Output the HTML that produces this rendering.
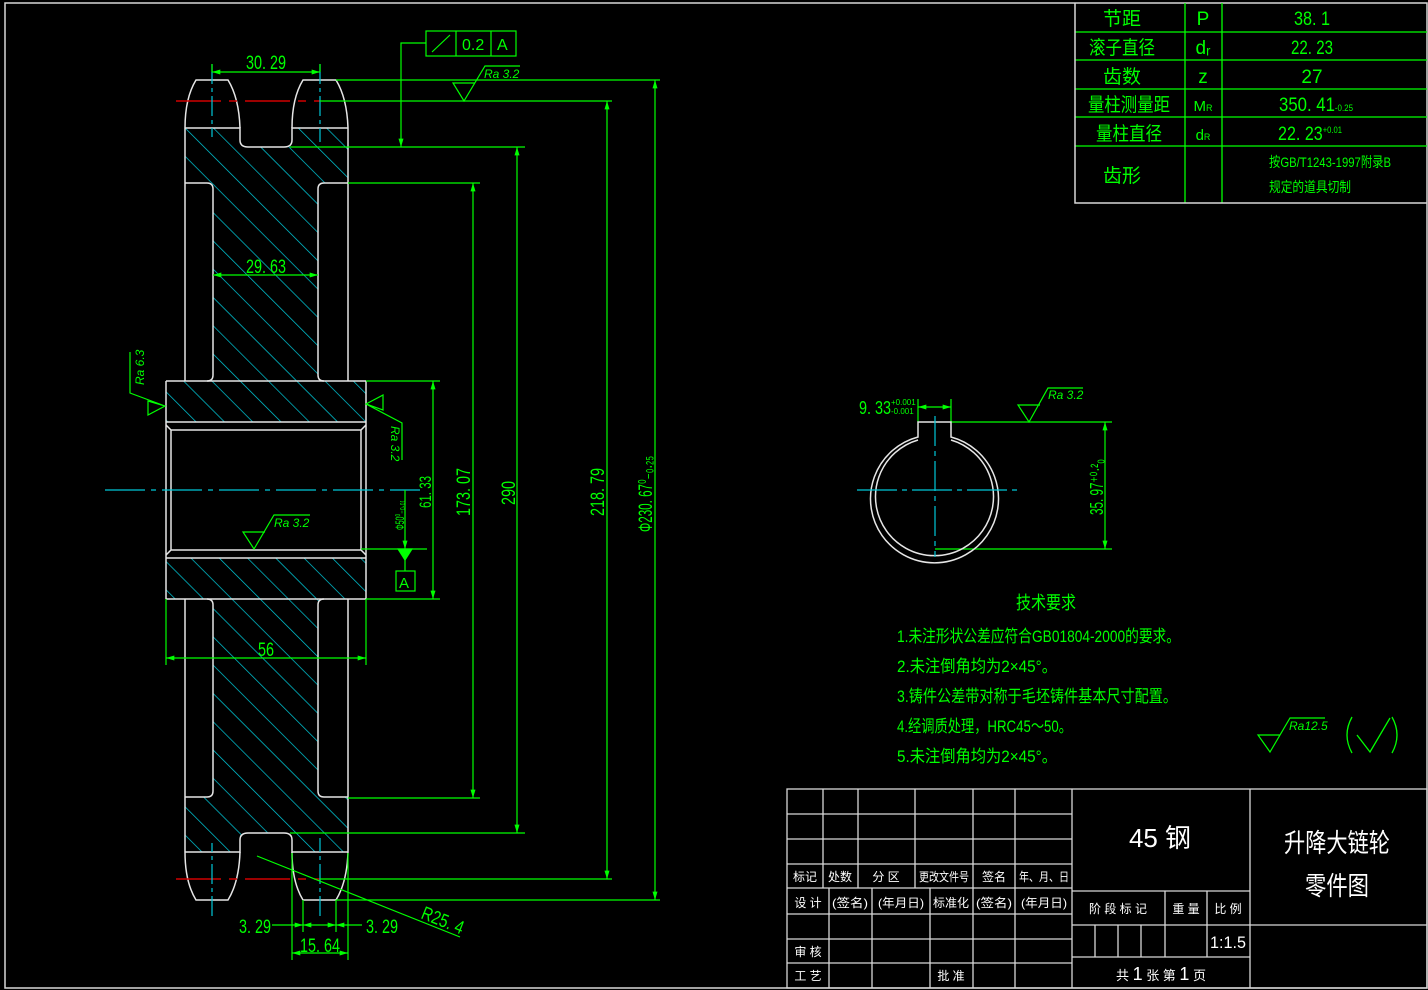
<!DOCTYPE html>
<html><head><meta charset="utf-8"><style>
html,body{margin:0;padding:0;background:#000;}
svg{display:block;}
text{font-family:"Liberation Sans Narrow","Liberation Sans","Noto Sans CJK SC",sans-serif;}
.g{fill:#00ff00;}
.w{fill:#fff;}
</style></head><body>
<svg width="1428" height="990" viewBox="0 0 1428 990" xmlns="http://www.w3.org/2000/svg">
<defs>
<pattern id="h" patternUnits="userSpaceOnUse" width="20" height="20" patternTransform="rotate(-45)">
<line x1="0" y1="0" x2="0" y2="20" stroke="#00d0e0" stroke-width="1.4"/>
</pattern>
<marker id="a" viewBox="0 0 10 6" refX="10" refY="3" markerWidth="14" markerHeight="5" orient="auto-start-reverse" markerUnits="userSpaceOnUse"><path d="M0,0 L10,3 L0,6z" fill="#00ff00"/></marker>
<g id="half">
<g fill="none" stroke="#e6e6e6" stroke-width="1.5">
<path d="M185,128 Q185,98 196,80 L228,80 Q239,98 240,128"/>
<path d="M292,128 Q292,98 303,80 L336,80 Q347,98 348,128"/>
<path d="M185,128 L240,128 L240,140 Q240,147 248,147 L284,147 Q292,147 292,140 L292,128 L348,128"/>
<path d="M185,128 L185,381 M348,128 L348,381"/>
<path d="M185,183 L207,183 Q213,183 213,189 L213,375 Q213,381 207,381"/>
<path d="M348,183 L324,183 Q318,183 318,189 L318,375 Q318,381 324,381"/>
<path d="M166,381 L366,381 M166,381 L166,490 M366,381 L366,490 M166,422 L366,422"/>
<path d="M166,425 L171,430 L361,430 L366,425 M171,430 L171,490 M361,430 L361,490"/>
</g>
<path d="M176,101 L320,101" stroke="#d00000" stroke-width="1.5" stroke-dasharray="45 8 8 8"/>
<path d="M212,64 L212,137 M320,64 L320,142" stroke="#00c8d8" stroke-width="1.2" stroke-dasharray="20 4 4 4"/>
</g>
</defs>

<rect x="5" y="3" width="1422" height="985" fill="none" stroke="#d8d8d8" stroke-width="1.5"/>

<!-- hatch (same direction top and bottom) -->
<path d="M185,128 L240,128 L240,140 Q240,147 248,147 L284,147 Q292,147 292,140 L292,128 L348,128 L348,183 L324,183 Q318,183 318,189 L318,375 Q318,381 324,381 L366,381 L366,422 L166,422 L166,381 L207,381 Q213,381 213,375 L213,189 Q213,183 207,183 L185,183Z" fill="url(#h)"/>
<path d="M185,852 L240,852 L240,840 Q240,833 248,833 L284,833 Q292,833 292,840 L292,852 L348,852 L348,797 L324,797 Q318,797 318,791 L318,605 Q318,599 324,599 L366,599 L366,558 L166,558 L166,599 L207,599 Q213,599 213,605 L213,791 Q213,797 207,797 L185,797Z" fill="url(#h)"/>
<use href="#half"/>
<use href="#half" transform="matrix(1,0,0,-1,0,980)"/>
<path d="M105,490 L420,490" stroke="#00c8d8" stroke-width="1.2" stroke-dasharray="40 6 5 6"/>

<g stroke="#00ff00" stroke-width="1.2" fill="none">
<line x1="212" y1="64" x2="212" y2="72"/><line x1="320" y1="64" x2="320" y2="72"/>
<line x1="212" y1="72" x2="320" y2="72" marker-start="url(#a)" marker-end="url(#a)"/>
<line x1="213" y1="275" x2="318" y2="275" marker-start="url(#a)" marker-end="url(#a)"/>
<line x1="166" y1="599" x2="166" y2="665"/><line x1="366" y1="599" x2="366" y2="665"/>
<line x1="166" y1="658" x2="366" y2="658" marker-start="url(#a)" marker-end="url(#a)"/>
<line x1="336" y1="80" x2="660" y2="80"/>
<line x1="320" y1="101" x2="612" y2="101"/>
<line x1="290" y1="147" x2="525" y2="147"/>
<line x1="348" y1="183" x2="480" y2="183"/>
<line x1="366" y1="381" x2="440" y2="381"/>
<line x1="361" y1="549" x2="427" y2="549"/>
<line x1="366" y1="599" x2="440" y2="599"/>
<line x1="348" y1="798" x2="480" y2="798"/>
<line x1="290" y1="833" x2="525" y2="833"/>
<line x1="320" y1="879" x2="612" y2="879"/>
<line x1="336" y1="900" x2="660" y2="900"/>
<line x1="655" y1="80" x2="655" y2="900" marker-start="url(#a)" marker-end="url(#a)"/>
<line x1="607" y1="101" x2="607" y2="879" marker-start="url(#a)" marker-end="url(#a)"/>
<line x1="517" y1="147" x2="517" y2="833" marker-start="url(#a)" marker-end="url(#a)"/>
<line x1="473" y1="183" x2="473" y2="798" marker-start="url(#a)" marker-end="url(#a)"/>
<line x1="433" y1="381" x2="433" y2="599" marker-start="url(#a)" marker-end="url(#a)"/>
<line x1="405" y1="490" x2="405" y2="549" marker-end="url(#a)"/>
<line x1="405" y1="549" x2="405" y2="571"/>
<path d="M398,549 L412,549 L405,560z" fill="#00ff00"/>
<rect x="396" y="571" width="19" height="20"/>
<rect x="426" y="31" width="90" height="25"/>
<line x1="456" y1="31" x2="456" y2="56"/><line x1="491" y1="31" x2="491" y2="56"/>
<line x1="432" y1="52" x2="450" y2="35"/>
<path d="M426,43 L401,43 L401,147" marker-end="url(#a)"/>
<path d="M520,66 L485,66 L464,101 L453,83 L475,83"/>
<path d="M310,515 L274,515 L254,549 L243,532 L265,532"/>
<path d="M1083,388 L1048,388 L1029,422 L1018,405 L1040,405"/>
<path d="M1325,718 L1290,718 L1270,752 L1258,735 L1280,735"/>
<path d="M148,401 L148,415 L165,406 Z M165,406 L130,393 L130,352"/>
<path d="M383,395 L383,410 L366,404 Z M366,404 L402,423 L402,460"/>
<line x1="292" y1="853" x2="292" y2="960"/><line x1="348" y1="853" x2="348" y2="960"/>
<line x1="303" y1="900" x2="303" y2="932"/><line x1="336" y1="900" x2="336" y2="932"/>
<line x1="272" y1="925" x2="303" y2="925" marker-end="url(#a)"/>
<line x1="303" y1="925" x2="320" y2="925" marker-start="url(#a)"/>
<line x1="320" y1="925" x2="336" y2="925" marker-end="url(#a)"/>
<line x1="336" y1="925" x2="362" y2="925" marker-start="url(#a)"/>
<line x1="292" y1="953" x2="348" y2="953" marker-start="url(#a)" marker-end="url(#a)"/>
<line x1="257" y1="856" x2="460" y2="937"/>
<line x1="918" y1="399" x2="918" y2="422"/><line x1="951" y1="399" x2="951" y2="422"/>
<line x1="918" y1="407" x2="951" y2="407" marker-start="url(#a)" marker-end="url(#a)"/>
<line x1="951" y1="422" x2="1112" y2="422"/>
<line x1="935" y1="549" x2="1112" y2="549"/>
<line x1="1105" y1="422" x2="1105" y2="549" marker-start="url(#a)" marker-end="url(#a)"/>
</g>

<g fill="none" stroke="#e6e6e6" stroke-width="1.5">
<path d="M918,422 L951,422 L951,437 A64,64 0 1 1 918,437 Z"/>
<path d="M918,440 A59,59 0 1 0 951,440"/>
</g>
<path d="M857,490 L1022,490" stroke="#00c8d8" stroke-width="1.2" stroke-dasharray="40 5 5 5"/>
<path d="M935,416 L935,557" stroke="#00c8d8" stroke-width="1.2" stroke-dasharray="30 5 5 5"/>

<g class="g" font-size="19">
<text x="246" y="69" textLength="40" lengthAdjust="spacingAndGlyphs">30. 29</text>
<text x="246" y="273" textLength="40" lengthAdjust="spacingAndGlyphs">29. 63</text>
<text x="258" y="656" textLength="16" lengthAdjust="spacingAndGlyphs">56</text>
<text x="239" y="933" textLength="32" lengthAdjust="spacingAndGlyphs">3. 29</text>
<text x="366" y="933" textLength="32" lengthAdjust="spacingAndGlyphs">3. 29</text>
<text x="300" y="952" textLength="40" lengthAdjust="spacingAndGlyphs">15. 64</text>
<text x="420" y="918" transform="rotate(22 420 918)" textLength="44" lengthAdjust="spacingAndGlyphs">R25. 4</text>
<text x="462" y="50" font-size="16" font-family="Liberation Sans">0.2</text>
<text x="497" y="50" font-size="16" font-family="Liberation Sans">A</text>
<text x="399" y="588" font-size="15" font-family="Liberation Sans">A</text>
<g font-style="italic" font-size="12" font-family="Liberation Sans">
<text x="484" y="78">Ra 3.2</text>
<text x="274" y="527">Ra 3.2</text>
<text x="1048" y="399">Ra 3.2</text>
<text x="1289" y="730">Ra12.5</text>
<text x="144" y="385" transform="rotate(-90 144 385)">Ra 6.3</text>
<text x="391" y="426" transform="rotate(90 391 426)">Ra 3.2</text>
</g>
<text transform="translate(515,505) rotate(-90)" textLength="24" lengthAdjust="spacingAndGlyphs">290</text>
<text transform="translate(470,516) rotate(-90)" textLength="48" lengthAdjust="spacingAndGlyphs">173. 07</text>
<text transform="translate(431,508) rotate(-90)" font-size="17" textLength="32" lengthAdjust="spacingAndGlyphs">61. 33</text>
<text transform="translate(404,530) rotate(-90)" font-size="12" textLength="30" lengthAdjust="spacingAndGlyphs">Φ50⁰₋₀.₀₁</text>
<text transform="translate(604,516) rotate(-90)" textLength="48" lengthAdjust="spacingAndGlyphs">218. 79</text>
<text transform="translate(652,532) rotate(-90)" textLength="76" lengthAdjust="spacingAndGlyphs">Φ230. 67⁰₋₀.₂₅</text>
<text transform="translate(1103,515) rotate(-90)" font-size="18" textLength="56" lengthAdjust="spacingAndGlyphs">35. 97⁺⁰·²₀</text>
<text x="859" y="414" font-size="18" textLength="32" lengthAdjust="spacingAndGlyphs">9. 33</text>
<text x="891" y="405" font-size="8">+0.001</text>
<text x="891" y="414" font-size="8">-0.001</text>
<text x="1016" y="609" font-size="18" textLength="60" lengthAdjust="spacingAndGlyphs">技术要求</text>
<text x="897" y="642" font-size="17" textLength="283" lengthAdjust="spacingAndGlyphs">1.未注形状公差应符合GB01804-2000的要求。</text>
<text x="897" y="672" font-size="17" textLength="160" lengthAdjust="spacingAndGlyphs">2.未注倒角均为2×45°。</text>
<text x="897" y="702" font-size="17" textLength="280" lengthAdjust="spacingAndGlyphs">3.铸件公差带对称于毛坯铸件基本尺寸配置。</text>
<text x="897" y="732" font-size="17" textLength="175" lengthAdjust="spacingAndGlyphs">4.经调质处理，HRC45～50。</text>
<text x="897" y="762" font-size="17" textLength="160" lengthAdjust="spacingAndGlyphs">5.未注倒角均为2×45°。</text>
</g>
<g stroke="#00ff00" stroke-width="1.3" fill="none">
<path d="M1352,717 Q1342,735 1352,753"/>
<path d="M1392,717 Q1402,735 1392,753"/>
<path d="M1357,735 L1370,752 L1390,718"/>
</g>

<g stroke="#00ff00" stroke-width="1.3">
<line x1="1075" y1="32" x2="1427" y2="32"/><line x1="1075" y1="60" x2="1427" y2="60"/>
<line x1="1075" y1="89" x2="1427" y2="89"/><line x1="1075" y1="117" x2="1427" y2="117"/>
<line x1="1075" y1="146" x2="1427" y2="146"/>
<line x1="1185" y1="3" x2="1185" y2="203"/><line x1="1222" y1="3" x2="1222" y2="203"/>
</g>
<path d="M1075,3 L1075,203 L1427,203" fill="none" stroke="#d8d8d8" stroke-width="1.5"/>
<g class="g" font-size="19" text-anchor="middle">
<text x="1122" y="25">节距</text><text x="1203" y="25">P</text><text x="1312" y="25" textLength="36" lengthAdjust="spacingAndGlyphs">38. 1</text>
<text x="1122" y="54" textLength="66" lengthAdjust="spacingAndGlyphs">滚子直径</text><text x="1203" y="54">dᵣ</text><text x="1312" y="54" textLength="42" lengthAdjust="spacingAndGlyphs">22. 23</text>
<text x="1122" y="83">齿数</text><text x="1203" y="83">z</text><text x="1312" y="83">27</text>
<text x="1129" y="111" textLength="82" lengthAdjust="spacingAndGlyphs">量柱测量距</text><text x="1203" y="111" font-size="15">M<tspan font-size="9">R</tspan></text><text x="1316" y="111" textLength="74" lengthAdjust="spacingAndGlyphs">350. 41<tspan font-size="9">-0.25</tspan></text>
<text x="1129" y="140" textLength="66" lengthAdjust="spacingAndGlyphs">量柱直径</text><text x="1203" y="140" font-size="15">d<tspan font-size="9">R</tspan></text><text x="1310" y="140" textLength="64" lengthAdjust="spacingAndGlyphs">22. 23<tspan font-size="9" dy="-7">+0.01</tspan></text>
<text x="1122" y="182">齿形</text>
<text x="1330" y="167" font-size="14" textLength="122" lengthAdjust="spacingAndGlyphs">按GB/T1243-1997附录B</text>
<text x="1310" y="192" font-size="14" textLength="82" lengthAdjust="spacingAndGlyphs">规定的道具切制</text>
</g>

<g stroke="#d8d8d8" stroke-width="1.3" fill="none">
<rect x="787" y="789" width="640" height="199"/>
<line x1="1072" y1="789" x2="1072" y2="988"/><line x1="1250" y1="789" x2="1250" y2="988"/>
<line x1="787" y1="814" x2="1072" y2="814"/><line x1="787" y1="839" x2="1072" y2="839"/>
<line x1="787" y1="864" x2="1072" y2="864"/><line x1="787" y1="888" x2="1072" y2="888"/>
<line x1="787" y1="914" x2="1072" y2="914"/><line x1="787" y1="939" x2="1072" y2="939"/>
<line x1="787" y1="963" x2="1072" y2="963"/>
<line x1="823" y1="789" x2="823" y2="888"/><line x1="858" y1="789" x2="858" y2="888"/>
<line x1="915" y1="789" x2="915" y2="888"/><line x1="973" y1="789" x2="973" y2="888"/>
<line x1="1015" y1="789" x2="1015" y2="888"/>
<line x1="829" y1="888" x2="829" y2="988"/><line x1="872" y1="888" x2="872" y2="988"/>
<line x1="930" y1="888" x2="930" y2="988"/><line x1="973" y1="888" x2="973" y2="988"/>
<line x1="1015" y1="888" x2="1015" y2="988"/>
<line x1="1072" y1="891" x2="1250" y2="891"/><line x1="1072" y1="925" x2="1427" y2="925"/>
<line x1="1072" y1="957" x2="1250" y2="957"/>
<line x1="1165" y1="891" x2="1165" y2="957"/><line x1="1207" y1="891" x2="1207" y2="957"/>
<line x1="1095" y1="925" x2="1095" y2="957"/><line x1="1118" y1="925" x2="1118" y2="957"/>
<line x1="1141" y1="925" x2="1141" y2="957"/>
</g>
<g class="w" font-size="12" text-anchor="middle">
<text x="805" y="881">标记</text><text x="840" y="881">处数</text><text x="886" y="881">分 区</text>
<text x="944" y="881" textLength="50" lengthAdjust="spacingAndGlyphs">更改文件号</text><text x="994" y="881">签名</text><text x="1044" y="881" textLength="50" lengthAdjust="spacingAndGlyphs">年、月、日</text>
<text x="808" y="907">设 计</text><text x="850" y="907" textLength="36" lengthAdjust="spacingAndGlyphs">(签名)</text><text x="901" y="907" textLength="46" lengthAdjust="spacingAndGlyphs">(年月日)</text>
<text x="951" y="907" textLength="36" lengthAdjust="spacingAndGlyphs">标准化</text><text x="994" y="907" textLength="36" lengthAdjust="spacingAndGlyphs">(签名)</text><text x="1044" y="907" textLength="46" lengthAdjust="spacingAndGlyphs">(年月日)</text>
<text x="808" y="956">审 核</text><text x="808" y="980">工 艺</text><text x="951" y="980">批 准</text>
<text x="1118" y="913">阶 段 标 记</text><text x="1186" y="913">重 量</text><text x="1228" y="913">比 例</text>
<text x="1228" y="948" font-size="17" textLength="36" lengthAdjust="spacingAndGlyphs">1:1.5</text>
<text x="1161" y="980" font-size="13">共 <tspan font-size="18">1</tspan> 张    第 <tspan font-size="18">1</tspan> 页</text>
<text x="1160" y="847" font-size="26" textLength="62" lengthAdjust="spacingAndGlyphs">45 钢</text>
<text x="1337" y="852" font-size="26" textLength="106" lengthAdjust="spacingAndGlyphs">升降大链轮</text>
<text x="1337" y="895" font-size="26" textLength="64" lengthAdjust="spacingAndGlyphs">零件图</text>
</g>
</svg>
</body></html>
